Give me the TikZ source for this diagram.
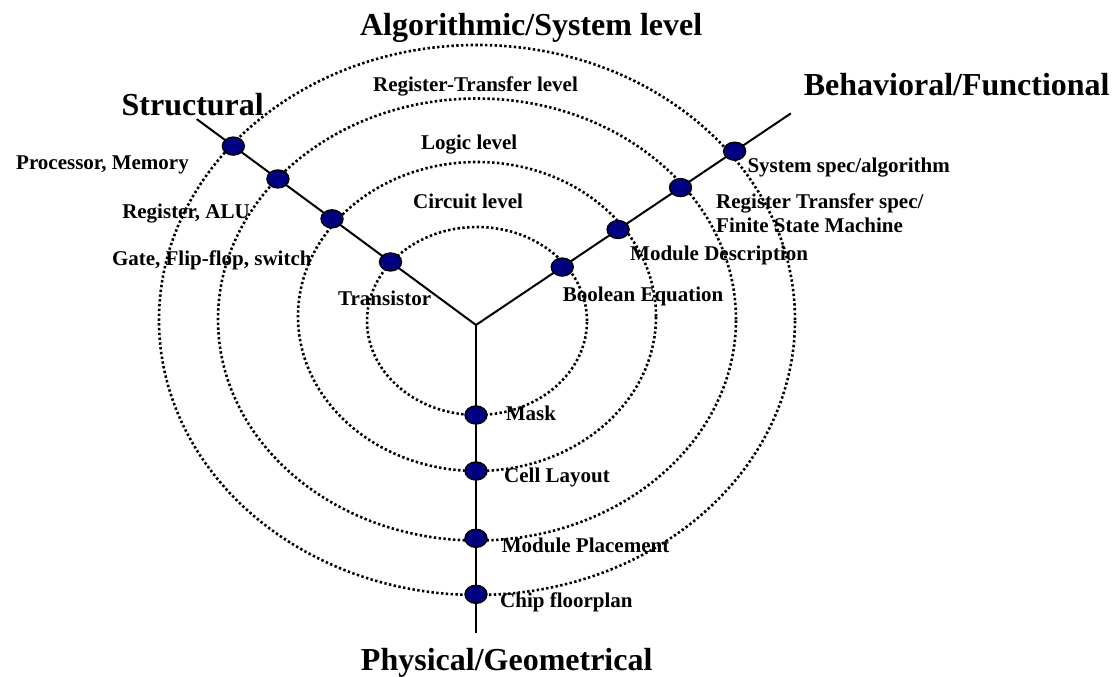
\documentclass[tikz,border=0pt]{standalone}
\usepackage{fontspec}
\setmainfont{Liberation Serif}
\usetikzlibrary{shapes.geometric}
\definecolor{dotblue}{RGB}{0,0,128}

\begin{document}
\begin{tikzpicture}[x=1pt,y=1pt,line join=miter,
                    font=\bfseries\fontsize{21}{24}\selectfont]
  \tikzstyle{level}=[draw=black,line width=2.6pt,dash pattern=on 2.4pt off 2.4pt]
  \tikzstyle{axis}=[draw=black,line width=2pt]
  \tikzstyle{dot}=[ellipse,draw=black,line width=1.4pt,fill=dotblue,
                   minimum width=22pt,minimum height=18pt,inner sep=0pt]
  \tikzstyle{txt}=[inner sep=0pt]
  \tikzstyle{title}=[inner sep=0pt,font=\bfseries\fontsize{32}{36}\selectfont]

  \useasboundingbox (0,0) rectangle (1114,677);

  % the four levels
  \foreach \cy/\rx/\ry in {356/110/94,360.5/179/154.5,357.5/259/221,357/318/275}
    \draw[level] (477,\cy) ellipse [x radius=\rx, y radius=\ry];

  % the three axes
  \coordinate (v)    at (476,352);
  \coordinate (send) at ([shift={(143.6:347)}]v);
  \coordinate (bend) at ([shift={(33.9:379.4)}]v);
  \coordinate (pend) at ([shift={(0,-307.7)}]v);

  \draw[axis] (send) -- (v) -- (bend);
  \draw[axis] (v) -- (pend);

  % points on the axes
  \foreach \n/\r in {1/301.5,2/246.1,3/178.9,4/106.2}
    \node[dot] (s\n) at ([shift={(143.6:\r)}]v) {};
  \foreach \n/\r in {1/311.6,2/246.4,3/171.2,4/103.9}
    \node[dot] (b\n) at ([shift={(33.9:\r)}]v) {};
  \foreach \n/\r in {1/269.3,2/213.3,3/146,4/90}
    \node[dot] (p\n) at ([shift={(0,-\r)}]v) {};

  % domain names
  \node[title,anchor=base] (alg) at (531.2,641)  {Algorithmic/System level};
  \node[title,anchor=base] (beh) at (956.7,581)  {Behavioral/Functional};
  \node[title,anchor=base] (str) at (192.7,561)  {Structural};
  \node[title,anchor=base] (phy) at (506.7,6.3)  {Physical/Geometrical};

  % level names
  \node[txt,anchor=base] (rtl) at (475.5,585)   {Register-Transfer level};
  \node[txt,anchor=base] (lgl) at (469.2,527.7) {Logic level};
  \node[txt,anchor=base] (ckl) at (468,468.7)   {Circuit level};

  % structural
  \node[txt,anchor=base east] (proc) at (189,507.7)   {Processor, Memory};
  \node[txt,anchor=base east] (reg)  at (250,458)     {Register, ALU};
  \node[txt,anchor=base east] (gate) at (311.7,411)   {Gate, Flip-flop, switch};
  \node[txt,anchor=base west] (tran) at (338,371.3)   {Transistor};

  % behavioral
  \node[txt,anchor=base west] (sys)  at (747.3,504.3) {System spec/algorithm};
  \node[txt,anchor=base west] (rts)  at (716,468)     {Register Transfer spec/};
  \node[txt,anchor=base west] (fsm)  at (716,444.7)   {Finite State Machine};
  \node[txt,anchor=base west] (mdes) at (630,416.3)   {Module Description};
  \node[txt,anchor=base west] (bool) at (562.7,375.3) {Boolean Equation};

  % physical
  \node[txt,anchor=base west] (mask) at (505.7,256.3) {Mask};
  \node[txt,anchor=base west] (cell) at (504,194.3)   {Cell Layout};
  \node[txt,anchor=base west] (mpl)  at (501.7,124.3) {Module Placement};
  \node[txt,anchor=base west] (chip) at (500,69.7)    {Chip floorplan};

\end{tikzpicture}
\end{document}
